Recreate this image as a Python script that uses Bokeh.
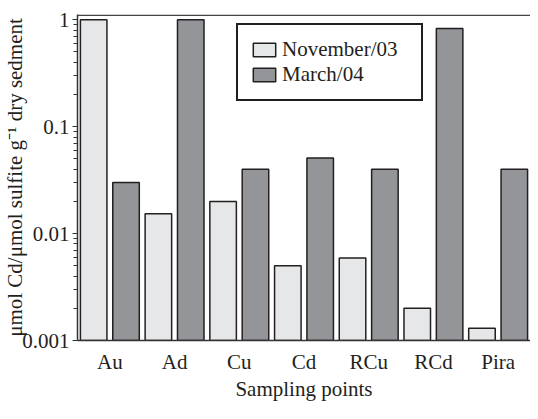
from bokeh.plotting import figure
from bokeh.models import FactorRange, Range1d, FixedTicker, Span, Legend, LegendItem, ColumnDataSource
from bokeh.transform import dodge
from bokeh.embed import file_html
from bokeh.resources import INLINE

sites = ["Au", "Ad", "Cu", "Cd", "RCu", "RCd", "Pira"]
nov03 = [1.0, 0.0153, 0.020, 0.0050, 0.0059, 0.0020, 0.0013]
mar04 = [0.030, 1.0, 0.040, 0.051, 0.040, 0.83, 0.040]
series_names = ["November/03", "March/04"]
yticks = [0.001, 0.01, 0.1, 1]
ytick_labels = ["0.001", "0.01", "0.1", "1"]
x_title = "Sampling points"
y_title = "μmol Cd/μmol sulfite g⁻¹ dry sedment"

FONT = "'Liberation Serif'"
DARK = "#231f20"
W, H = 530, 403
LEFT, TOP = 77, 14

src = ColumnDataSource(dict(site=sites, nov=nov03, mar=mar04))

p = figure(width=W, height=H, x_range=FactorRange(factors=sites, range_padding=0),
           y_axis_type="log", y_range=Range1d(0.001, 1.12),
           output_backend="svg", toolbar_location=None,
           min_border_left=LEFT, min_border_right=0, min_border_top=TOP, min_border_bottom=0)

r1 = p.vbar(x=dodge("site", -0.25, range=p.x_range), top="nov", bottom=0.001, width=0.41,
            source=src, fill_color="#e6e7e8", line_color=DARK, line_width=1.5)
r2 = p.vbar(x=dodge("site", 0.25, range=p.x_range), top="mar", bottom=0.001, width=0.41,
            source=src, fill_color="#939598", line_color=DARK, line_width=1.5)

p.xgrid.grid_line_color = None
p.ygrid.grid_line_color = None
p.outline_line_color = None
p.background_fill_color = "white"
p.border_fill_color = "white"

minor = [m * 10.0 ** e for e in (-3, -2, -1) for m in range(2, 10)]
p.yaxis.ticker = FixedTicker(ticks=yticks, minor_ticks=minor)
p.yaxis.major_label_overrides = {t: l for t, l in zip(yticks, ytick_labels)}

for ax in (p.xaxis[0], p.yaxis[0]):
    ax.axis_line_color = "#333333"
    ax.axis_line_width = 1.5
    ax.major_label_text_font = FONT
    ax.major_label_text_font_size = "21px"
    ax.major_label_text_color = DARK
    ax.axis_label_text_font = FONT
    ax.axis_label_text_font_size = "21px"
    ax.axis_label_text_font_style = "normal"
    ax.axis_label_text_color = DARK

p.xaxis.major_tick_line_color = None
p.xaxis.minor_tick_line_color = None
p.xaxis.major_label_standoff = 3
p.xaxis.axis_label = x_title
p.xaxis.axis_label_standoff = 0

p.yaxis.major_tick_in = 0
p.yaxis.major_tick_out = 5
p.yaxis.minor_tick_in = 0
p.yaxis.minor_tick_out = 4
p.yaxis.major_tick_line_color = "#333333"
p.yaxis.minor_tick_line_color = "#333333"
p.yaxis.major_tick_line_width = 1.2
p.yaxis.minor_tick_line_width = 1.0
p.yaxis.major_label_standoff = 3
p.yaxis.axis_label = y_title
p.yaxis.axis_label_standoff = -8

top_line = Span(location=1.10, dimension="width", line_color="#444444", line_width=1.5)
p.add_layout(top_line)

frame_h = 327
legend = Legend(items=[LegendItem(label=series_names[0], renderers=[r1]),
                       LegendItem(label=series_names[1], renderers=[r2])],
                location=(159, frame_h - 16 - 72), orientation="vertical",
                label_text_font=FONT, label_text_font_size="21px", label_text_color=DARK,
                glyph_width=28, glyph_height=17, label_height=20, label_width=127, label_standoff=4,
                spacing=0, padding=12, margin=0,
                border_line_color=DARK, border_line_width=2, border_line_alpha=1.0,
                background_fill_color="white", background_fill_alpha=1.0)
p.add_layout(legend)

open("out.html", "w").write(file_html(p, INLINE))
